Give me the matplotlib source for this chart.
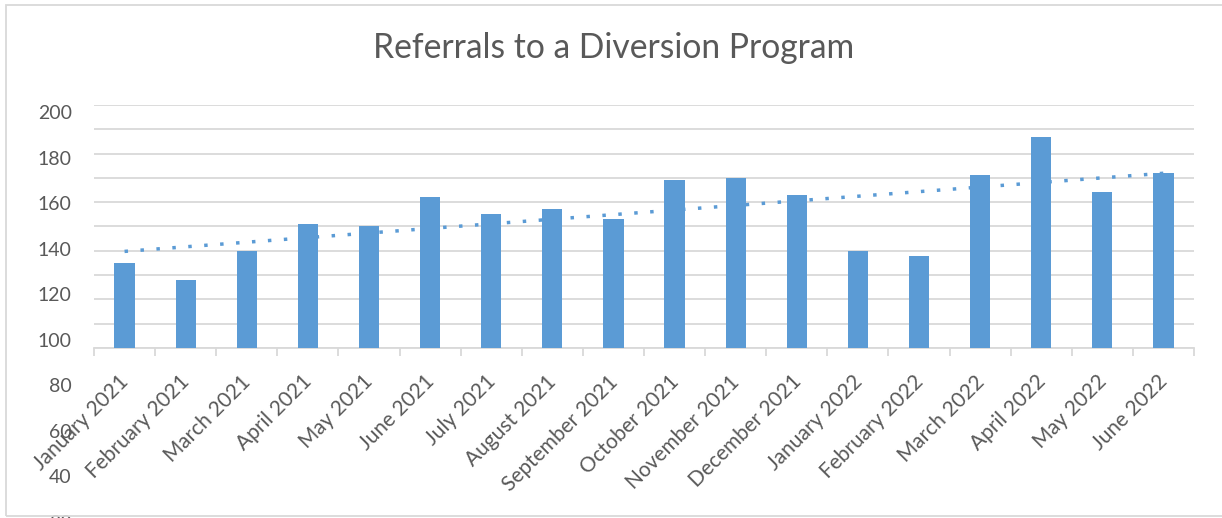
import numpy as np
import matplotlib
matplotlib.use("Agg")
import matplotlib.pyplot as plt
from matplotlib.patches import Rectangle
from matplotlib.transforms import ScaledTranslation

# ---- data ----
months = ["January 2021", "February 2021", "March 2021", "April 2021", "May 2021",
          "June 2021", "July 2021", "August 2021", "September 2021", "October 2021",
          "November 2021", "December 2021", "January 2022", "February 2022",
          "March 2022", "April 2022", "May 2022", "June 2022"]
referrals = [135, 128, 140, 151, 150, 162, 155, 157, 153, 169,
             170, 163, 140, 138, 171, 187, 164, 172]
grid_ticks = list(range(100, 201, 10))
label_ticks = list(range(20, 201, 20))
title = "Referrals to a Diversion Program"

BAR = "#5B9BD5"
TXT = "#595959"
GRID = "#D9D9D9"
W, H = 1222, 518
DPI = 100

plt.rcParams['font.family'] = ['Lato', 'DejaVu Sans']

fig = plt.figure(figsize=(W / DPI, H / DPI), dpi=DPI)

def px_axes(left, top, right, bottom):
    return [left / W, (H - bottom) / H, (right - left) / W, (bottom - top) / H]

# outer chart border
fig.patches.append(Rectangle((6 / W, (H - 516) / H), (W + 10) / W, (516 - 5) / H,
                             transform=fig.transFigure, fill=False,
                             edgecolor=GRID, linewidth=1.3, zorder=0))

# secondary axes carrying the (glitched) value labels
axl = fig.add_axes(px_axes(94, 112, 1194, 522))
axl.set_ylim(20, 200)
axl.set_yticks(label_ticks)
axl.set_yticklabels([str(v) for v in label_ticks])
axl.tick_params(axis='y', length=0, pad=16, labelsize=14, labelcolor=TXT)
axl.set_xticks([])
for s in axl.spines.values():
    s.set_visible(False)
axl.patch.set_visible(False)

# main axes
ax = fig.add_axes(px_axes(94, 105, 1194, 348))
ax.patch.set_visible(False)
x = np.arange(len(months))
ax.bar(x, referrals, width=0.33, color=BAR, zorder=3, bottom=0)
ax.set_ylim(100, 200)
ax.set_xlim(-0.5, len(months) - 0.5)

# linear trendline
coef = np.polyfit(x, referrals, 1)
trend = np.polyval(coef, x)
ax.plot(x, trend, color=BAR, linewidth=2.5, linestyle=(0, (1, 3.6)),
        dash_capstyle='butt', zorder=4)

ax.set_yticks(grid_ticks)
ax.set_yticklabels([])
ax.tick_params(axis='y', length=0)
ax.grid(axis='y', color=GRID, linewidth=1.3, zorder=0)
ax.set_axisbelow(True)

ax.set_xticks(x)
ax.set_xticklabels(months, rotation=45, ha='right', va='top',
                   rotation_mode='anchor', fontsize=15, color=TXT)
ax.tick_params(axis='x', length=0, pad=17)
ax.set_xticks(np.arange(-0.5, len(months), 1.0), minor=True)
ax.tick_params(axis='x', which='minor', length=6, width=1.3, color=GRID)
off = ScaledTranslation(-6 / DPI, 0, fig.dpi_scale_trans)
for lab in ax.get_xticklabels():
    lab.set_transform(lab.get_transform() + off)

for name, s in ax.spines.items():
    s.set_visible(name == 'bottom')
ax.spines['bottom'].set_color(GRID)
ax.spines['bottom'].set_linewidth(1.3)

fig.text(614 / W, (H - 48) / H, title, ha='center', va='center',
         fontsize=24.2, color=TXT)

fig.savefig("out.png", dpi=DPI)
